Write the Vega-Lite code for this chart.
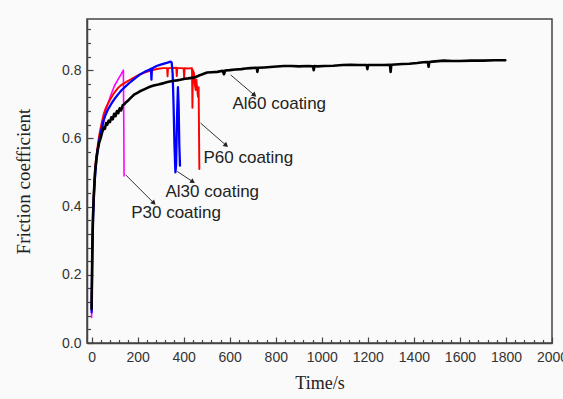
{
  "$schema": "https://vega.github.io/schema/vega-lite/v6.json",
  "width": 465,
  "height": 324,
  "autosize": {"type": "none"},
  "padding": {"left": 87, "top": 19, "right": 11, "bottom": 56},
  "background": "#fafafa",
  "config": {
    "view": {"stroke": "#444", "strokeWidth": 1.5},
    "axis": {
      "grid": false,
      "domainColor": "#444",
      "domainWidth": 1.5,
      "tickColor": "#444",
      "tickWidth": 1.2,
      "labelFont": "Liberation Sans",
      "labelFontSize": 14,
      "labelColor": "#333",
      "titleFont": "Liberation Serif",
      "titleFontWeight": "normal",
      "titleColor": "#222"
    }
  },
  "datasets": {
    "curves": [
      {"s": "P30", "t": 0, "v": 0.075}, {"s": "P30", "t": 2, "v": 0.2}, {"s": "P30", "t": 4, "v": 0.3}, {"s": "P30", "t": 6, "v": 0.36},
      {"s": "P30", "t": 9, "v": 0.42}, {"s": "P30", "t": 12, "v": 0.47}, {"s": "P30", "t": 16, "v": 0.51}, {"s": "P30", "t": 20, "v": 0.54},
      {"s": "P30", "t": 25, "v": 0.565}, {"s": "P30", "t": 30, "v": 0.585}, {"s": "P30", "t": 39, "v": 0.615}, {"s": "P30", "t": 47, "v": 0.635},
      {"s": "P30", "t": 55, "v": 0.655}, {"s": "P30", "t": 62, "v": 0.683}, {"s": "P30", "t": 70, "v": 0.7}, {"s": "P30", "t": 80, "v": 0.72},
      {"s": "P30", "t": 90, "v": 0.738}, {"s": "P30", "t": 100, "v": 0.755}, {"s": "P30", "t": 110, "v": 0.767}, {"s": "P30", "t": 120, "v": 0.779},
      {"s": "P30", "t": 130, "v": 0.79}, {"s": "P30", "t": 138, "v": 0.8}, {"s": "P30", "t": 140, "v": 0.62}, {"s": "P30", "t": 141, "v": 0.49},

      {"s": "P60", "t": 0, "v": 0.11}, {"s": "P60", "t": 3, "v": 0.28}, {"s": "P60", "t": 6, "v": 0.38}, {"s": "P60", "t": 10, "v": 0.45},
      {"s": "P60", "t": 15, "v": 0.51}, {"s": "P60", "t": 20, "v": 0.545}, {"s": "P60", "t": 25, "v": 0.57}, {"s": "P60", "t": 32, "v": 0.605},
      {"s": "P60", "t": 39, "v": 0.63}, {"s": "P60", "t": 46, "v": 0.652}, {"s": "P60", "t": 53, "v": 0.672}, {"s": "P60", "t": 60, "v": 0.686},
      {"s": "P60", "t": 70, "v": 0.7}, {"s": "P60", "t": 80, "v": 0.713}, {"s": "P60", "t": 90, "v": 0.725}, {"s": "P60", "t": 100, "v": 0.735},
      {"s": "P60", "t": 115, "v": 0.748}, {"s": "P60", "t": 130, "v": 0.757}, {"s": "P60", "t": 155, "v": 0.767}, {"s": "P60", "t": 180, "v": 0.777},
      {"s": "P60", "t": 205, "v": 0.786}, {"s": "P60", "t": 230, "v": 0.793}, {"s": "P60", "t": 250, "v": 0.797}, {"s": "P60", "t": 270, "v": 0.801},
      {"s": "P60", "t": 290, "v": 0.804}, {"s": "P60", "t": 310, "v": 0.806}, {"s": "P60", "t": 328, "v": 0.806}, {"s": "P60", "t": 330, "v": 0.782},
      {"s": "P60", "t": 332, "v": 0.806}, {"s": "P60", "t": 350, "v": 0.806}, {"s": "P60", "t": 368, "v": 0.807}, {"s": "P60", "t": 370, "v": 0.783},
      {"s": "P60", "t": 372, "v": 0.806}, {"s": "P60", "t": 390, "v": 0.806}, {"s": "P60", "t": 400, "v": 0.805}, {"s": "P60", "t": 402, "v": 0.778},
      {"s": "P60", "t": 404, "v": 0.806}, {"s": "P60", "t": 420, "v": 0.805}, {"s": "P60", "t": 436, "v": 0.806}, {"s": "P60", "t": 438, "v": 0.69},
      {"s": "P60", "t": 440, "v": 0.8}, {"s": "P60", "t": 445, "v": 0.79}, {"s": "P60", "t": 448, "v": 0.76}, {"s": "P60", "t": 452, "v": 0.742},
      {"s": "P60", "t": 455, "v": 0.772}, {"s": "P60", "t": 458, "v": 0.75}, {"s": "P60", "t": 462, "v": 0.722}, {"s": "P60", "t": 465, "v": 0.75},
      {"s": "P60", "t": 468, "v": 0.51},

      {"s": "Al30", "t": 0, "v": 0.09}, {"s": "Al30", "t": 3, "v": 0.26}, {"s": "Al30", "t": 6, "v": 0.36}, {"s": "Al30", "t": 10, "v": 0.43},
      {"s": "Al30", "t": 15, "v": 0.49}, {"s": "Al30", "t": 20, "v": 0.53}, {"s": "Al30", "t": 25, "v": 0.56}, {"s": "Al30", "t": 32, "v": 0.59},
      {"s": "Al30", "t": 39, "v": 0.615}, {"s": "Al30", "t": 46, "v": 0.635}, {"s": "Al30", "t": 53, "v": 0.655}, {"s": "Al30", "t": 60, "v": 0.668},
      {"s": "Al30", "t": 70, "v": 0.683}, {"s": "Al30", "t": 80, "v": 0.695}, {"s": "Al30", "t": 90, "v": 0.706}, {"s": "Al30", "t": 100, "v": 0.716},
      {"s": "Al30", "t": 115, "v": 0.729}, {"s": "Al30", "t": 130, "v": 0.741}, {"s": "Al30", "t": 150, "v": 0.754}, {"s": "Al30", "t": 170, "v": 0.766},
      {"s": "Al30", "t": 190, "v": 0.777}, {"s": "Al30", "t": 210, "v": 0.787}, {"s": "Al30", "t": 230, "v": 0.795}, {"s": "Al30", "t": 250, "v": 0.801},
      {"s": "Al30", "t": 258, "v": 0.804}, {"s": "Al30", "t": 260, "v": 0.772}, {"s": "Al30", "t": 262, "v": 0.805}, {"s": "Al30", "t": 270, "v": 0.808},
      {"s": "Al30", "t": 285, "v": 0.813}, {"s": "Al30", "t": 300, "v": 0.816}, {"s": "Al30", "t": 315, "v": 0.819}, {"s": "Al30", "t": 330, "v": 0.822},
      {"s": "Al30", "t": 343, "v": 0.825}, {"s": "Al30", "t": 348, "v": 0.822}, {"s": "Al30", "t": 352, "v": 0.79}, {"s": "Al30", "t": 356, "v": 0.7},
      {"s": "Al30", "t": 360, "v": 0.58}, {"s": "Al30", "t": 364, "v": 0.5}, {"s": "Al30", "t": 367, "v": 0.52}, {"s": "Al30", "t": 371, "v": 0.66},
      {"s": "Al30", "t": 375, "v": 0.75}, {"s": "Al30", "t": 378, "v": 0.7}, {"s": "Al30", "t": 381, "v": 0.58}, {"s": "Al30", "t": 384, "v": 0.52},

      {"s": "Al60", "t": 0, "v": 0.1}, {"s": "Al60", "t": 3, "v": 0.27}, {"s": "Al60", "t": 6, "v": 0.37}, {"s": "Al60", "t": 10, "v": 0.44},
      {"s": "Al60", "t": 15, "v": 0.5}, {"s": "Al60", "t": 20, "v": 0.535}, {"s": "Al60", "t": 25, "v": 0.56}, {"s": "Al60", "t": 32, "v": 0.585},
      {"s": "Al60", "t": 39, "v": 0.6}, {"s": "Al60", "t": 46, "v": 0.618}, {"s": "Al60", "t": 53, "v": 0.632}, {"s": "Al60", "t": 58, "v": 0.628},
      {"s": "Al60", "t": 63, "v": 0.645}, {"s": "Al60", "t": 68, "v": 0.64}, {"s": "Al60", "t": 74, "v": 0.652}, {"s": "Al60", "t": 80, "v": 0.648},
      {"s": "Al60", "t": 86, "v": 0.662}, {"s": "Al60", "t": 92, "v": 0.656}, {"s": "Al60", "t": 98, "v": 0.672}, {"s": "Al60", "t": 104, "v": 0.665},
      {"s": "Al60", "t": 110, "v": 0.68}, {"s": "Al60", "t": 116, "v": 0.674}, {"s": "Al60", "t": 122, "v": 0.688}, {"s": "Al60", "t": 128, "v": 0.682},
      {"s": "Al60", "t": 135, "v": 0.697}, {"s": "Al60", "t": 142, "v": 0.7}, {"s": "Al60", "t": 150, "v": 0.706}, {"s": "Al60", "t": 160, "v": 0.712},
      {"s": "Al60", "t": 172, "v": 0.72}, {"s": "Al60", "t": 184, "v": 0.728}, {"s": "Al60", "t": 197, "v": 0.733}, {"s": "Al60", "t": 210, "v": 0.738},
      {"s": "Al60", "t": 226, "v": 0.743}, {"s": "Al60", "t": 242, "v": 0.748}, {"s": "Al60", "t": 256, "v": 0.752}, {"s": "Al60", "t": 270, "v": 0.755},
      {"s": "Al60", "t": 290, "v": 0.758}, {"s": "Al60", "t": 314, "v": 0.762}, {"s": "Al60", "t": 330, "v": 0.765}, {"s": "Al60", "t": 350, "v": 0.768},
      {"s": "Al60", "t": 370, "v": 0.77}, {"s": "Al60", "t": 386, "v": 0.772}, {"s": "Al60", "t": 405, "v": 0.775}, {"s": "Al60", "t": 420, "v": 0.776},
      {"s": "Al60", "t": 444, "v": 0.778}, {"s": "Al60", "t": 460, "v": 0.782}, {"s": "Al60", "t": 473, "v": 0.786}, {"s": "Al60", "t": 490, "v": 0.79},
      {"s": "Al60", "t": 502, "v": 0.793}, {"s": "Al60", "t": 520, "v": 0.794}, {"s": "Al60", "t": 546, "v": 0.795}, {"s": "Al60", "t": 570, "v": 0.798},
      {"s": "Al60", "t": 575, "v": 0.788}, {"s": "Al60", "t": 580, "v": 0.799}, {"s": "Al60", "t": 600, "v": 0.8}, {"s": "Al60", "t": 625, "v": 0.802},
      {"s": "Al60", "t": 650, "v": 0.803}, {"s": "Al60", "t": 670, "v": 0.805}, {"s": "Al60", "t": 690, "v": 0.806}, {"s": "Al60", "t": 718, "v": 0.807},
      {"s": "Al60", "t": 720, "v": 0.795}, {"s": "Al60", "t": 723, "v": 0.807}, {"s": "Al60", "t": 750, "v": 0.808}, {"s": "Al60", "t": 790, "v": 0.81},
      {"s": "Al60", "t": 835, "v": 0.812}, {"s": "Al60", "t": 870, "v": 0.812}, {"s": "Al60", "t": 900, "v": 0.811}, {"s": "Al60", "t": 940, "v": 0.812},
      {"s": "Al60", "t": 962, "v": 0.811}, {"s": "Al60", "t": 965, "v": 0.8}, {"s": "Al60", "t": 968, "v": 0.812}, {"s": "Al60", "t": 980, "v": 0.811},
      {"s": "Al60", "t": 1010, "v": 0.812}, {"s": "Al60", "t": 1050, "v": 0.813}, {"s": "Al60", "t": 1090, "v": 0.815}, {"s": "Al60", "t": 1125, "v": 0.816},
      {"s": "Al60", "t": 1160, "v": 0.815}, {"s": "Al60", "t": 1195, "v": 0.815}, {"s": "Al60", "t": 1198, "v": 0.803}, {"s": "Al60", "t": 1201, "v": 0.815},
      {"s": "Al60", "t": 1230, "v": 0.815}, {"s": "Al60", "t": 1269, "v": 0.815}, {"s": "Al60", "t": 1296, "v": 0.816}, {"s": "Al60", "t": 1299, "v": 0.795},
      {"s": "Al60", "t": 1302, "v": 0.816}, {"s": "Al60", "t": 1350, "v": 0.818}, {"s": "Al60", "t": 1380, "v": 0.819}, {"s": "Al60", "t": 1414, "v": 0.821},
      {"s": "Al60", "t": 1440, "v": 0.823}, {"s": "Al60", "t": 1461, "v": 0.824}, {"s": "Al60", "t": 1464, "v": 0.81}, {"s": "Al60", "t": 1467, "v": 0.824},
      {"s": "Al60", "t": 1480, "v": 0.825}, {"s": "Al60", "t": 1530, "v": 0.828}, {"s": "Al60", "t": 1565, "v": 0.827}, {"s": "Al60", "t": 1600, "v": 0.827},
      {"s": "Al60", "t": 1650, "v": 0.828}, {"s": "Al60", "t": 1700, "v": 0.828}, {"s": "Al60", "t": 1750, "v": 0.829}, {"s": "Al60", "t": 1797, "v": 0.829}
    ],
    "arrows": [
      {"name": "Al60", "t": 604, "v": 0.786, "t2": 705, "v2": 0.728, "angle": 131},
      {"name": "P60", "t": 473, "v": 0.645, "t2": 582, "v2": 0.581, "angle": 131},
      {"name": "Al30", "t": 372, "v": 0.503, "t2": 437, "v2": 0.474, "angle": 124},
      {"name": "P30", "t": 148, "v": 0.493, "t2": 268, "v2": 0.412, "angle": 135}
    ],
    "labels": [
      {"text": "Al60 coating", "t": 612, "v": 0.701},
      {"text": "P60 coating", "t": 486, "v": 0.542},
      {"text": "Al30 coating", "t": 321, "v": 0.443},
      {"text": "P30 coating", "t": 172, "v": 0.38}
    ]
  },
  "encoding": {
    "x": {
      "field": "t",
      "type": "quantitative",
      "scale": {"domain": [-20, 2000], "nice": false, "zero": false},
      "axis": {
        "title": "Time/s",
        "titleFontSize": 18,
        "titlePadding": 8,
        "labelPadding": 13,
        "values": [0,40,80,120,160,200,240,280,320,360,400,440,480,520,560,600,640,680,720,760,800,840,880,920,960,1000,1040,1080,1120,1160,1200,1240,1280,1320,1360,1400,1440,1480,1520,1560,1600,1640,1680,1720,1760,1800,1840,1880,1920,1960,2000],
        "labelExpr": "datum.value % 200 == 0 ? format(datum.value, 'd') : ''",
        "labelFlush": false,
        "labelOverlap": false,
        "tickSize": {"condition": {"test": "datum.value % 200 == 0", "value": -6}, "value": -3.5}
      }
    },
    "y": {
      "field": "v",
      "type": "quantitative",
      "scale": {"domain": [0, 0.95], "nice": false},
      "axis": {
        "title": "Friction coefficient",
        "titleFontSize": 19,
        "titlePadding": 28,
        "labelPadding": 12,
        "values": [0,0.04,0.08,0.12,0.16,0.2,0.24,0.28,0.32,0.36,0.4,0.44,0.48,0.52,0.56,0.6,0.64,0.68,0.72,0.76,0.8,0.84,0.88,0.92],
        "labelExpr": "round(datum.value * 100) % 20 == 0 ? format(datum.value, '.1f') : ''",
        "labelFlush": false,
        "labelOverlap": false,
        "tickSize": {"condition": {"test": "round(datum.value * 100) % 20 == 0", "value": -6}, "value": -3.5}
      }
    }
  },
  "layer": [
    {
      "data": {"name": "curves"},
      "mark": {"type": "line", "strokeJoin": "round", "strokeCap": "round"},
      "encoding": {
        "color": {
          "field": "s",
          "type": "nominal",
          "scale": {"domain": ["P30", "P60", "Al30", "Al60"], "range": ["#ff00ff", "#ff0000", "#0000ff", "#000000"]},
          "legend": null
        },
        "strokeWidth": {
          "field": "s",
          "type": "nominal",
          "scale": {"domain": ["P30", "P60", "Al30", "Al60"], "range": [1.6, 2.6, 2.6, 2.8]},
          "legend": null
        }
      }
    },
    {
      "data": {"name": "arrows"},
      "mark": {"type": "rule", "color": "#333", "strokeWidth": 1},
      "encoding": {
        "x2": {"field": "t2"},
        "y2": {"field": "v2"}
      }
    },
    {
      "data": {"name": "arrows"},
      "mark": {"type": "point", "shape": "triangle", "filled": true, "color": "#222", "size": 30, "opacity": 1},
      "encoding": {
        "x": {"field": "t2", "type": "quantitative"},
        "y": {"field": "v2", "type": "quantitative"},
        "angle": {"field": "angle", "type": "quantitative", "scale": null}
      }
    },
    {
      "data": {"name": "labels"},
      "mark": {"type": "text", "align": "left", "baseline": "middle", "font": "Liberation Sans", "fontSize": 17, "color": "#222"},
      "encoding": {
        "text": {"field": "text"}
      }
    }
  ]
}
